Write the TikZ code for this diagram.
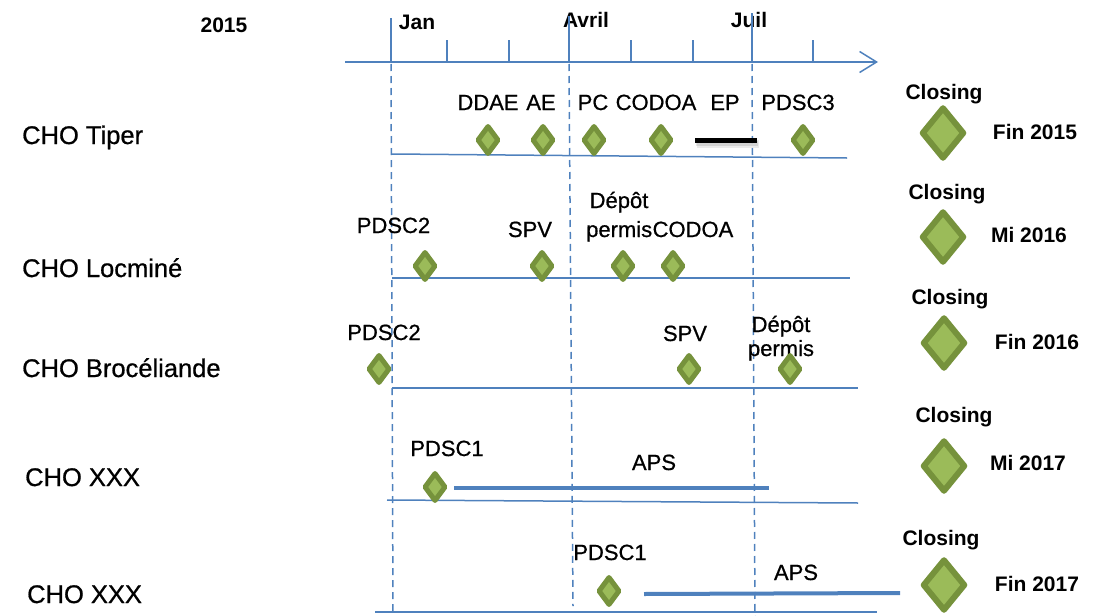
\documentclass[tikz,border=0pt]{standalone}
\usepackage{fontspec}
\setmainfont{Liberation Sans}
\newfontfamily\heavyfont{Liberation Sans}[FakeBold=0.7]
\usetikzlibrary{shapes.geometric,arrows.meta}
\definecolor{axisblue}{HTML}{4F81BD}
\definecolor{msborder}{HTML}{76923C}
\definecolor{msfill}{HTML}{9BBB59}
\begin{document}
\begin{tikzpicture}[x=1pt,y=-1pt,
  lbl/.style={anchor=base,inner sep=0pt,font=\heavyfont\fontsize{22}{24}\selectfont},
  blbl/.style={anchor=base,inner sep=0pt,font=\fontsize{21}{24}\selectfont\bfseries},
  rowlbl/.style={anchor=base west,inner sep=0pt,font=\heavyfont\fontsize{25.5}{28}\selectfont},
  ms/.style={diamond,draw=msborder,fill=msfill,line width=5pt,line join=round,minimum width=22pt,minimum height=29pt,inner sep=0pt},
  bigms/.style={ms,line width=6pt,minimum width=43pt,minimum height=52pt},
  rowline/.style={draw=axisblue,line width=1.5pt},
  guide/.style={draw=axisblue,line width=1.5pt,dash pattern=on 7pt off 5pt},
  bar/.style={draw=axisblue,line width=4pt},
  tickline/.style={draw=axisblue,line width=1.5pt}]
\useasboundingbox (0,0) rectangle (1093,616);

% header texts
\node[blbl] (year) at (224,32.5) {2015};
\node[blbl] (jan) at (417,29.5) {Jan};
\node[blbl] (avr) at (586,27.5) {Avril};
\node[blbl] (juil) at (749,27.5) {Juil};

% axis
\coordinate (axs) at (345,62);
\coordinate (axe) at (878,62);
\draw[tickline,-{Straight Barb[length=17pt,width=21pt]}] (axs) -- (axe);
\foreach \x/\t in {391/18,569/16,752/13,447/40,509/40,631/40,693/40,813/40}{
  \draw[tickline] (\x,62) -- (\x,\t);
}

% guide dashed lines
\coordinate (g1a) at (391,64); \coordinate (g1b) at (393,616);
\coordinate (g2a) at (569,64); \coordinate (g2b) at (573,606);
\coordinate (g3a) at (752,64); \coordinate (g3b) at (755,616);
\draw[guide] (g1a) -- (g1b);
\draw[guide] (g2a) -- (g2b);
\draw[guide] (g3a) -- (g3b);

% row lines
\coordinate (r1a) at (392,154); \coordinate (r1b) at (847,158);
\coordinate (r2a) at (392,278); \coordinate (r2b) at (850,278);
\coordinate (r3a) at (392,388); \coordinate (r3b) at (858,388);
\coordinate (r4a) at (387,500); \coordinate (r4b) at (858,503);
\coordinate (r5a) at (375,612); \coordinate (r5b) at (877,612);
\draw[rowline] (r1a) -- (r1b);
\draw[rowline] (r2a) -- (r2b);
\draw[rowline] (r3a) -- (r3b);
\draw[rowline] (r4a) -- (r4b);
\draw[rowline] (r5a) -- (r5b);

% row labels
\node[rowlbl] (row1) at (22,144) {CHO Tiper};
\node[rowlbl] (row2) at (22,277) {CHO Locminé};
\node[rowlbl] (row3) at (22,377) {CHO Brocéliande};
\node[rowlbl] (row4) at (25,486) {CHO XXX};
\node[rowlbl] (row5) at (27,603) {CHO XXX};

% row 1
\node[lbl] (t11) at (488,110) {DDAE};
\node[lbl] (t12) at (541,110) {AE};
\node[lbl] (t13) at (593,110) {PC};
\node[lbl] (t14) at (656,110) {CODOA};
\node[lbl] (t15) at (725,110) {EP};
\node[lbl] (t16) at (798,110) {PDSC3};
\node[ms] (d11) at (488,140) {};
\node[ms] (d12) at (543,140) {};
\node[ms] (d13) at (594,140) {};
\node[ms] (d14) at (661,140) {};
\node[ms] (d16) at (803,140) {};
\coordinate (epa) at (695,140); \coordinate (epb) at (757,140);
\draw[black,line width=8pt,opacity=0.08,transform canvas={shift={(2pt,-4pt)}}] (epa) -- (epb);
\draw[black,line width=5pt,opacity=0.1,transform canvas={shift={(1pt,-3pt)}}] (epa) -- (epb);
\draw[black,line width=5pt] (epa) -- (epb);

% row 2
\node[lbl] (t21) at (393.5,233) {PDSC2};
\node[lbl] (t22) at (530,237) {SPV};
\node[lbl] (t23) at (619,208) {Dépôt};
\node[lbl,anchor=base west] (t24) at (586,237) {permis};
\node[lbl,anchor=base west] (t25) at (t24.base east) {CODOA};
\node[ms] (d21) at (425,266) {};
\node[ms] (d22) at (542,266) {};
\node[ms] (d23) at (623,266) {};
\node[ms] (d24) at (673,266) {};

% row 3
\node[lbl] (t31) at (384,340) {PDSC2};
\node[lbl] (t32) at (685,341) {SPV};
\node[lbl] (t33) at (781,332) {Dépôt};
\node[lbl] (t34) at (781,356) {permis};
\node[ms] (d31) at (379,369) {};
\node[ms] (d32) at (689,369) {};
\node[ms] (d33) at (790,369) {};

% row 4
\node[lbl] (t41) at (447,456) {PDSC1};
\node[lbl] (t42) at (654,470) {APS};
\node[ms] (d41) at (435,487) {};
\coordinate (b4a) at (454,488); \coordinate (b4b) at (769,488);
\draw[bar] (b4a) -- (b4b);

% row 5
\node[lbl] (t51) at (610,560) {PDSC1};
\node[lbl] (t52) at (796,580) {APS};
\node[ms] (d51) at (609,591) {};
\coordinate (b5a) at (644,594); \coordinate (b5b) at (900,593);
\draw[bar] (b5a) -- (b5b);

% closings
\node[blbl] (c1) at (944,99.5) {Closing};
\node[bigms] (cd1) at (943,133) {};
\node[blbl] (cf1) at (1035,139.5) {Fin 2015};

\node[blbl] (c2) at (947,199.5) {Closing};
\node[bigms] (cd2) at (943,237) {};
\node[blbl] (cf2) at (1029,242.5) {Mi 2016};

\node[blbl] (c3) at (950,304.5) {Closing};
\node[bigms] (cd3) at (944,343) {};
\node[blbl] (cf3) at (1037,349.5) {Fin 2016};

\node[blbl] (c4) at (954,422.5) {Closing};
\node[bigms] (cd4) at (944,466) {};
\node[blbl] (cf4) at (1028,470.5) {Mi 2017};

\node[blbl] (c5) at (941,545.5) {Closing};
\node[bigms] (cd5) at (944,585) {};
\node[blbl] (cf5) at (1037,591.5) {Fin 2017};
\end{tikzpicture}
\end{document}
